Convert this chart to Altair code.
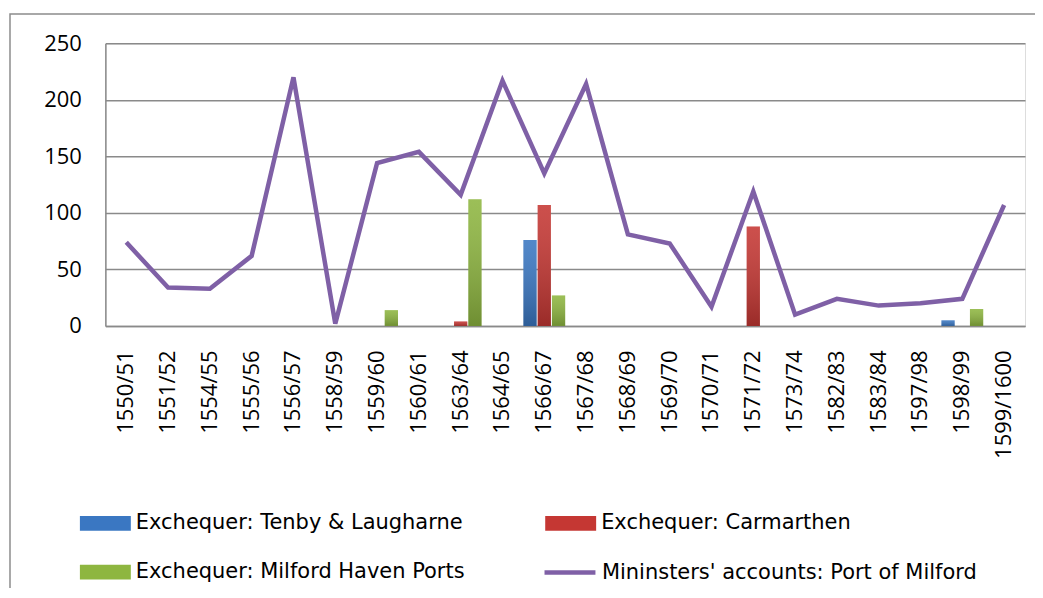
import altair as alt
import pandas as pd

years = ["1550/51", "1551/52", "1554/55", "1555/56", "1556/57", "1558/59", "1559/60",
         "1560/61", "1563/64", "1564/65", "1566/67", "1567/68", "1568/69", "1569/70",
         "1570/71", "1571/72", "1573/74", "1582/83", "1583/84", "1597/98", "1598/99",
         "1599/1600"]

tenby = [0, 0, 0, 0, 0, 0, 0, 0, 0, 0, 76, 0, 0, 0, 0, 0, 0, 0, 0, 0, 5, 0]
carmarthen = [0, 0, 0, 0, 0, 0, 0, 0, 4, 0, 107, 0, 0, 0, 0, 88, 0, 0, 0, 0, 0, 0]
milford_ports = [0, 0, 0, 0, 0, 0, 14, 0, 112, 0, 27, 0, 0, 0, 0, 0, 0, 0, 0, 0, 15, 0]
ministers = [74, 34, 33, 62, 220, 2, 144, 154, 116, 217, 135, 214, 81, 73, 17, 119,
             10, 24, 18, 20, 24, 107]

bar_series = ["Exchequer: Tenby & Laugharne", "Exchequer: Carmarthen",
              "Exchequer: Milford Haven Ports"]
line_series = "Mininsters' accounts: Port of Milford"
bar_colors = ["#3A77C2", "#C53733", "#8EB640"]
line_color = "#7F60A6"

rows = []
for name, vals in zip(bar_series, [tenby, carmarthen, milford_ports]):
    for yr, v in zip(years, vals):
        rows.append({"year": yr, "series": name, "value": v})
bar_df = pd.DataFrame(rows)
line_df = pd.DataFrame({"year": years, "value": ministers, "series": [line_series] * len(years)})

FONT = "Open Sans"
LFONT = "DejaVu Sans"
GRID = "#8A8A8A"

x_enc = alt.X("year:N", sort=years,
              scale=alt.Scale(paddingInner=0, paddingOuter=0),
              axis=alt.Axis(title=None, labelAngle=-90, ticks=False, grid=False,
                            domainColor=GRID, domainWidth=1.5,
                            labelFont=FONT, labelFontSize=22, labelColor="#000000",
                            labelPadding=24))
y_enc = alt.Y("value:Q", scale=alt.Scale(domain=[0, 250]),
              axis=alt.Axis(title=None, values=[0, 50, 100, 150, 200, 250], ticks=False,
                            grid=True, gridColor=GRID, gridWidth=1.5,
                            domainColor=GRID, domainWidth=1.5,
                            labelFont=FONT, labelFontSize=22, labelColor="#000000",
                            labelPadding=24))
xoff = alt.XOffset("series:N", sort=bar_series,
                   scale=alt.Scale(paddingInner=0.07, paddingOuter=0))

frame = alt.Chart(pd.DataFrame({"a": [0]})).mark_rect(
    fillOpacity=0, stroke="#8C8C8C", strokeWidth=1.5
).encode(x=alt.value(-95.5), x2=alt.value(960), y=alt.value(-29.5), y2=alt.value(620))

bars = alt.Chart(bar_df).mark_bar().encode(
    x=x_enc, xOffset=xoff, y=y_enc,
    fill=alt.Fill("series:N", sort=bar_series,
                  scale=alt.Scale(domain=bar_series, range=bar_colors),
                  legend=alt.Legend(title=None, orient="none", legendX=-25.5, legendY=455,
                                    direction="horizontal",
                                    columns=2, columnPadding=80, rowPadding=13,
                                    symbolType="M-1,-0.29H1V0.29H-1Z", symbolSize=2601,
                                    symbolStrokeWidth=0, labelOffset=5,
                                    labelFont=LFONT, labelFontSize=21, labelColor="#000000",
                                    labelLimit=600, padding=0))
)

shade = alt.Chart(bar_df).mark_bar(
    fill={"gradient": "linear", "x1": 0, "x2": 0, "y1": 0, "y2": 1,
          "stops": [{"offset": 0, "color": "rgba(255,255,255,0.12)"},
                    {"offset": 1, "color": "rgba(0,0,0,0.22)"}]}
).encode(x=x_enc, xOffset=xoff, y=y_enc)

line = alt.Chart(line_df).mark_line(strokeWidth=4.5, strokeJoin="miter").encode(
    x=x_enc, y=y_enc,
    stroke=alt.Stroke("series:N",
                      scale=alt.Scale(domain=[line_series], range=[line_color]),
                      legend=alt.Legend(title=None, orient="none", legendX=437.3, legendY=502,
                                        symbolType="stroke", symbolSize=2601,
                                        symbolStrokeWidth=4.5, labelOffset=4,
                                        labelFont=LFONT, labelFontSize=21, labelColor="#000000",
                                        labelLimit=600, padding=0))
)

chart = alt.layer(frame, bars, shade, line).properties(
    width=921, height=283,
    autosize=alt.AutoSizeParams(type="none"),
    padding={"left": 97.5, "top": 35, "right": 10, "bottom": 262},
).configure_view(stroke="transparent").configure(background="white")

chart.save("out.html", embed_options={"renderer": "svg", "actions": False})
